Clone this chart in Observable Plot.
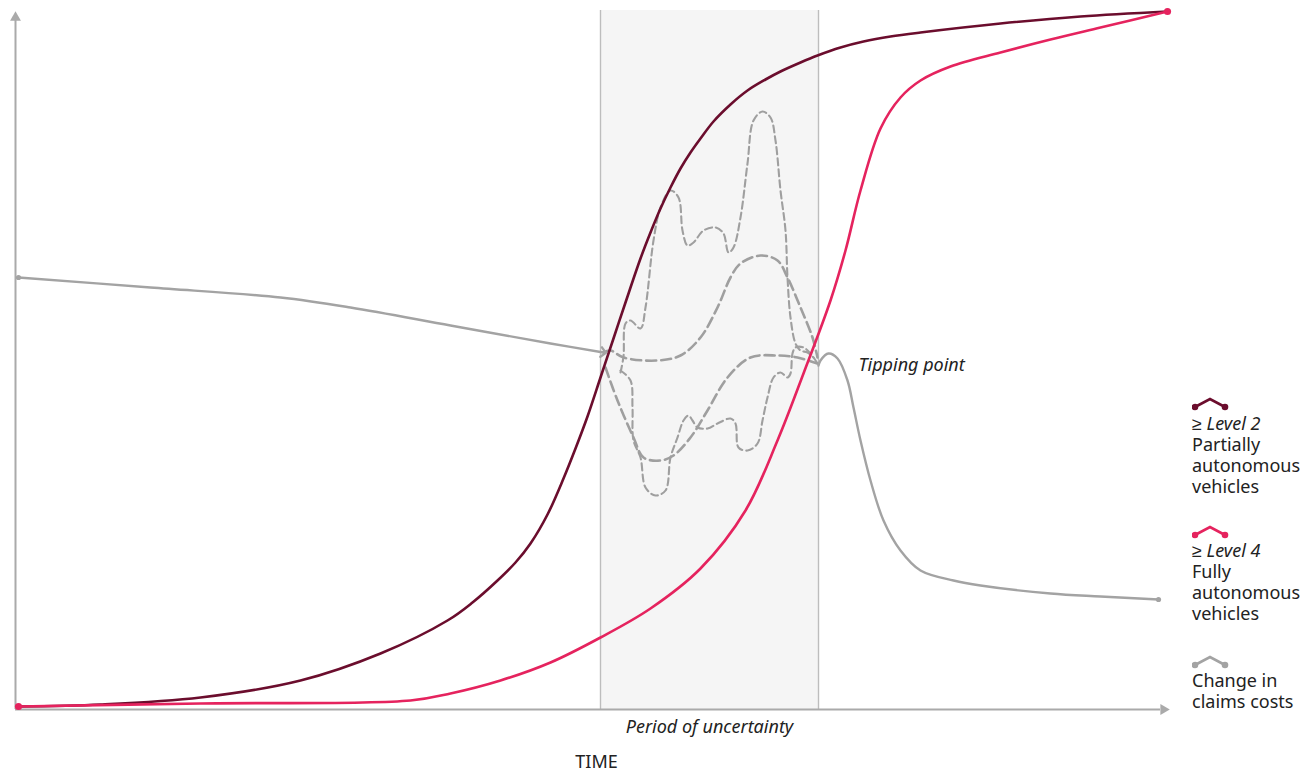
<!DOCTYPE html>
<html><head><meta charset="utf-8">
<script src="https://cdn.jsdelivr.net/npm/d3@7"></script>
<script src="https://cdn.jsdelivr.net/npm/@observablehq/plot@0.6"></script>
<style>
body{margin:0;background:#fff;font-family:"Noto Sans",sans-serif;}
#wrap{position:relative;width:1312px;height:774px;}
.lg{position:absolute;left:1192px;font-size:18px;line-height:21px;color:#222;white-space:nowrap;}
.ic{position:absolute;left:1192px;}
</style></head><body><div id="wrap"></div>
<script>
// Time (arbitrary units) and level (arbitrary units)
const level2 = [[0,0],[82,2],[182,9],[282,26],[362,53],[429,86],[454,104],[479,126],[497,144],[512,163],[529,192],[545,228],[557,258],[569,290],[582,329],[595,368],[607,404],[622,448],[632,474],[642,498],[652,519],[662,538],[672,554],[682,568],[695,585],[712,602],[729,616],[747,627],[762,635],[782,644],[799,651],[822,659],[845,665],[872,670],[902,674],[982,683],[1062,690],[1149,695]];
const level4 = [[0,0],[182,3],[392,6],[432,13],[482,26],[532,44],[582,69],[632,98],[682,138],[727,196],[759,266],[785,333],[812,406],[827,456],[842,516],[862,578],[882,609],[902,626],[932,640],[982,654],[1032,667],[1082,679],[1149,695]];
const claimsBefore = [[0,429],[132,419],[262,409],[332,399],[432,381],[532,363],[585,354]];
const claimsAfter = [[800,341],[802,346],[810,353],[819,348],[829,326],[835,299],[842,266],[852,226],[865,186],[882,156],[902,136],[935,126],[962,121],[1032,113],[1082,110],[1140,107]];
const scenarioA = [[585,354],[592,356],[605,349],[639,346],[662,351],[682,369],[699,399],[712,429],[722,443],[742,451],[759,446],[769,429],[782,399],[794,369],[799,349]];
const scenarioB = [[587,339],[599,306],[615,269],[625,249],[642,246],[655,251],[672,269],[689,296],[709,329],[732,349],[759,351],[779,349],[799,343]];
const scenarioC = [[602,334],[605,350],[607,383],[612,386],[622,378],[627,399],[635,466],[642,499],[652,516],[660,509],[664,476],[669,461],[675,464],[685,476],[697,479],[705,473],[710,454],[715,459],[722,489],[729,543],[735,586],[744,595],[752,589],[757,566],[762,516],[767,476],[769,429],[772,389],[777,363],[782,356],[789,354],[795,349]];
const scenarioD = [[602,336],[612,326],[614,299],[615,266],[622,249],[627,219],[637,211],[647,216],[652,249],[659,269],[665,286],[670,291],[674,286],[679,279],[689,278],[699,283],[712,288],[717,283],[720,259],[729,256],[739,263],[744,286],[749,309],[755,329],[762,334],[769,329],[772,333],[774,353],[777,359],[785,359],[792,353],[799,343]];
const uncertainty = {start: 582, end: 800, low: -3, high: 696};
const axisOrigin = {t: -3, v: -3, tEnd: 1142, vEnd: 686};
const tipping = {t: 840, v: 341, text: "Tipping point"};
const period = {t: 691, v: -21, text: "Period of uncertainty"};
const axisLabel = {t: 578, v: -56, text: "TIME"};
const legendItems = [
  {color: "#6b0d2d", lines: ["≥ Level 2", "Partially", "autonomous", "vehicles"]},
  {color: "#e5235e", lines: ["≥ Level 4", "Fully", "autonomous", "vehicles"]},
  {color: "#a3a3a3", lines: ["Change in", "claims costs"]}
];

const X = d => d[0], Y = d => d[1];
const dark = "#6b0d2d", pink = "#e5235e", grey = "#a3a3a3", dash = "#9f9f9f";

const chart = Plot.plot({
  width: 1312, height: 774,
  x: {domain: [0, 1149], range: [18, 1167], axis: null},
  y: {domain: [0, 695], range: [706, 11], axis: null},
  style: {fontFamily: "Noto Sans, sans-serif", background: "transparent"},
  marks: [
    Plot.rect([uncertainty], {x1: "start", x2: "end", y1: "low", y2: "high", fill: "#f5f5f5"}),
    Plot.ruleX([uncertainty.start, uncertainty.end], {y1: uncertainty.low, y2: uncertainty.high, stroke: "#bdbdbd", strokeWidth: 1.4}),
    Plot.ruleX([axisOrigin.t], {y1: axisOrigin.v, y2: axisOrigin.vEnd, stroke: "#aaaaaa", strokeWidth: 2}),
    Plot.ruleY([axisOrigin.v], {x1: axisOrigin.t, x2: axisOrigin.tEnd, stroke: "#aaaaaa", strokeWidth: 2}),
    Plot.dot([[axisOrigin.t, axisOrigin.vEnd]], {x: X, y: Y, symbol: "triangle2", r: 5.2, fill: "#aaaaaa", dy: -3}),
    Plot.dot([[axisOrigin.tEnd, axisOrigin.v]], {x: X, y: Y, symbol: "triangle2", r: 5.2, fill: "#aaaaaa", rotate: 90, dx: 3}),
    Plot.line(scenarioA, {x: X, y: Y, curve: "catmull-rom", stroke: dash, strokeWidth: 2.6, strokeDasharray: "10,5"}),
    Plot.line(scenarioB, {x: X, y: Y, curve: "catmull-rom", stroke: dash, strokeWidth: 2.6, strokeDasharray: "10,5"}),
    Plot.line(scenarioC, {x: X, y: Y, curve: "catmull-rom", stroke: dash, strokeWidth: 2.1, strokeDasharray: "7,4"}),
    Plot.line(scenarioD, {x: X, y: Y, curve: "catmull-rom", stroke: dash, strokeWidth: 2.1, strokeDasharray: "7,4"}),
    Plot.line(claimsBefore, {x: X, y: Y, curve: "catmull-rom", stroke: grey, strokeWidth: 2.4, markerEnd: "arrow"}),
    Plot.line(claimsAfter, {x: X, y: Y, curve: "catmull-rom", stroke: grey, strokeWidth: 2.4}),
    Plot.dot([claimsBefore[0], claimsAfter[claimsAfter.length - 1]], {x: X, y: Y, r: 2.6, fill: grey}),
    Plot.line(level2, {x: X, y: Y, curve: "catmull-rom", stroke: dark, strokeWidth: 2.6}),
    Plot.line(level4, {x: X, y: Y, curve: "catmull-rom", stroke: pink, strokeWidth: 2.6}),
    Plot.dot([level4[0], level4[level4.length - 1]], {x: X, y: Y, r: 3.6, fill: pink}),
    Plot.text([tipping], {x: "t", y: "v", text: "text", textAnchor: "start", fontSize: 18, fontStyle: "italic", fill: "#222"}),
    Plot.text([period], {x: "t", y: "v", text: "text", textAnchor: "middle", fontSize: 18, fontStyle: "italic", fill: "#222"}),
    Plot.text([axisLabel], {x: "t", y: "v", text: "text", fontSize: 18, fill: "#222"})
  ]
});
const wrap = document.getElementById("wrap");
wrap.appendChild(chart);

// Legend
const iconTops = [395, 523, 653];
const textTops = [413, 540, 670];
legendItems.forEach((item, i) => {
  const svg = d3.create("svg").attr("class", "ic").attr("width", 40).attr("height", 18)
    .style("top", iconTops[i] + "px");
  svg.append("polyline").attr("points", "3,12 18,4 33,12").attr("fill", "none")
    .attr("stroke", item.color).attr("stroke-width", 2.6);
  svg.append("circle").attr("cx", 3).attr("cy", 12).attr("r", 3.3).attr("fill", item.color);
  svg.append("circle").attr("cx", 33).attr("cy", 12).attr("r", 3.3).attr("fill", item.color);
  wrap.appendChild(svg.node());
  const div = document.createElement("div");
  div.className = "lg";
  div.style.top = textTops[i] + "px";
  div.innerHTML = item.lines.map((l, j) => (j === 0 && l.startsWith("≥")) ? `<i>${l}</i>` : l).join("<br>");
  wrap.appendChild(div);
});
</script></body></html>
